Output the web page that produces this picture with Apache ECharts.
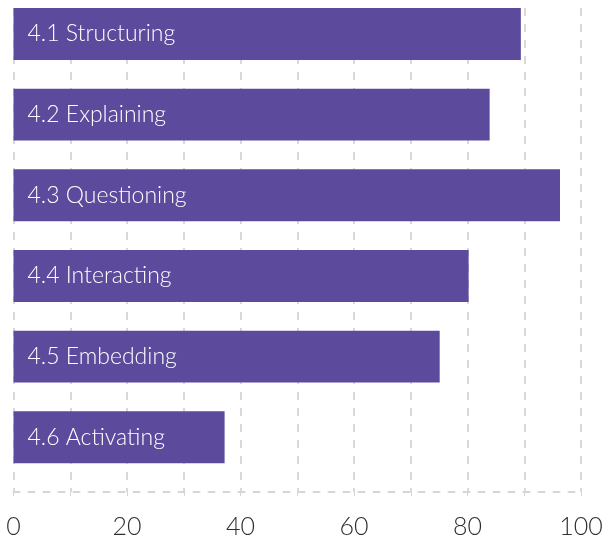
<!DOCTYPE html>
<html>
<head>
<meta charset="utf-8">
<script src="https://cdn.jsdelivr.net/npm/echarts@6/dist/echarts.min.js"></script>
<style>
html,body{margin:0;padding:0;background:#fff;}
#chart{width:611px;height:539px;}
</style>
</head>
<body>
<div id="chart"></div>
<script>
const categories = ['4.1 Structuring', '4.2 Explaining', '4.3 Questioning', '4.4 Interacting', '4.5 Embedding', '4.6 Activating'];
const values = [89.4, 83.9, 96.3, 80.2, 75.1, 37.2];
const xTicks = [0, 20, 40, 60, 80, 100];

const chart = echarts.init(document.getElementById('chart'));
const FONT = 'Lato';
chart.setOption({
  animation: false,
  grid: { left: 13.5, right: 30, top: 8, bottom: 46, containLabel: false },
  xAxis: {
    type: 'value', min: 0, max: 100, interval: 10,
    axisLine: { show: true, lineStyle: { color: '#d6d6d6', width: 2, type: [6, 9] } },
    axisTick: { show: true, inside: false, length: 4, lineStyle: { color: '#d6d6d6', width: 1 } },
    splitLine: { show: true, lineStyle: { color: '#d9d9d9', width: 2, type: [8, 8] } },
    axisLabel: {
      color: '#2e2e2e', fontFamily: FONT, fontWeight: 300, fontSize: 25, margin: 22,
      formatter: v => xTicks.indexOf(v) >= 0 ? String(v) : ''
    }
  },
  yAxis: {
    type: 'category', data: categories, inverse: true,
    axisLine: { show: false }, axisTick: { show: false }, axisLabel: { show: false },
    splitLine: { show: false }
  },
  series: [
    {
      type: 'bar', data: values, barWidth: '64.4%', barGap: 0, barCategoryGap: 0,
      itemStyle: { color: '#5c4a9c' },
      label: {
        show: true, position: 'insideLeft', distance: 14,
        formatter: p => p.name, color: '#fff', fontFamily: FONT, fontWeight: 300, fontSize: 23
      }
    },
    {
      type: 'bar', data: categories.map(() => 0), barWidth: '35.6%', barGap: 0,
      itemStyle: { color: 'transparent' }, silent: true
    }
  ]
});
</script>
</body>
</html>
